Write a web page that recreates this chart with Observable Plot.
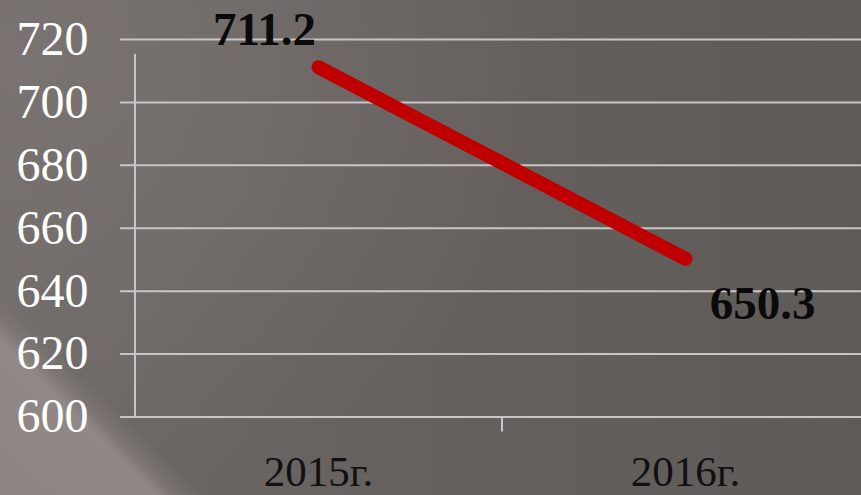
<!DOCTYPE html>
<html>
<head>
<meta charset="utf-8">
<script src="https://cdn.jsdelivr.net/npm/d3@7"></script>
<script src="https://cdn.jsdelivr.net/npm/@observablehq/plot@0.6"></script>
<style>
  html, body { margin: 0; padding: 0; background: #5e5a57; }
  #bg {
    position: absolute; left: 0; top: 0; width: 861px; height: 495px; overflow: hidden;
    background:
      linear-gradient(45deg, rgba(146,138,136,0.8) 0%, rgba(150,142,140,0.85) 11.5%, rgba(140,132,130,0.4) 13%, rgba(0,0,0,0) 15%),
      radial-gradient(ellipse 520px 440px at 40px 60px, rgba(128,121,119,0.6), rgba(0,0,0,0)),
      linear-gradient(90deg, #6f6967 0%, #676260 40%, #5e5a57 100%);
  }
  #chart { position: absolute; left: 0; top: 0; }
  #chart svg text { font-family: 'Liberation Serif', 'Times New Roman', serif; }
</style>
</head>
<body>
<div id="bg"></div>
<div id="chart"></div>
<script>
const years = ["2015г.", "2016г."];
const values = [711.2, 650.3];
const yTicks = [600, 620, 640, 660, 680, 700, 720];

const data = years.map((year, i) => ({ year, value: values[i] }));

const xRange = [134, 868];
const step = (xRange[1] - xRange[0]) / years.length;
const font = "Liberation Serif";

const chart = Plot.plot({
  width: 861,
  height: 495,
  marginTop: 39,
  marginBottom: 78.5,
  marginLeft: 120,
  marginRight: 0,
  style: { background: "transparent", fontFamily: font, overflow: "visible" },
  x: { type: "point", domain: years, range: xRange, padding: 0.5, axis: null },
  y: { domain: [600, 720], axis: null },
  marks: [
    Plot.ruleY(yTicks, { y: d => d, stroke: "#c8c6c4", strokeWidth: 2 }),
    Plot.ruleX([years[0]], { x: d => d, dx: -step / 2, y1: 600, y2: 720, insetBottom: -15, stroke: "#c8c6c4", strokeWidth: 2 }),
    Plot.ruleX(years, { x: d => d, dx: step / 2, y1: 600, y2: 600, insetBottom: -15, stroke: "#c8c6c4", strokeWidth: 2 }),
    Plot.text(yTicks, { y: d => d, text: d => String(d), frameAnchor: "left", textAnchor: "end", dx: -32, fill: "white", fontSize: 48, fontFamily: font }),
    Plot.text(years, { x: d => d, text: d => d, frameAnchor: "bottom", lineAnchor: "top", dy: 38, fill: "#111", fontSize: 43, fontFamily: font }),
    Plot.line(data, { x: "year", y: "value", stroke: "#c00000", strokeWidth: 14, strokeLinecap: "round" }),
    Plot.text([data[0]], { x: "year", y: "value", text: d => d.value.toFixed(1), dx: -54, dy: -37, fill: "#0a0a0a", fontSize: 47, fontWeight: "bold", fontFamily: font }),
    Plot.text([data[1]], { x: "year", y: "value", text: d => d.value.toFixed(1), dx: 77, dy: 45, fill: "#0a0a0a", fontSize: 47, fontWeight: "bold", fontFamily: font })
  ]
});
document.getElementById("chart").appendChild(chart);
</script>
</body>
</html>
